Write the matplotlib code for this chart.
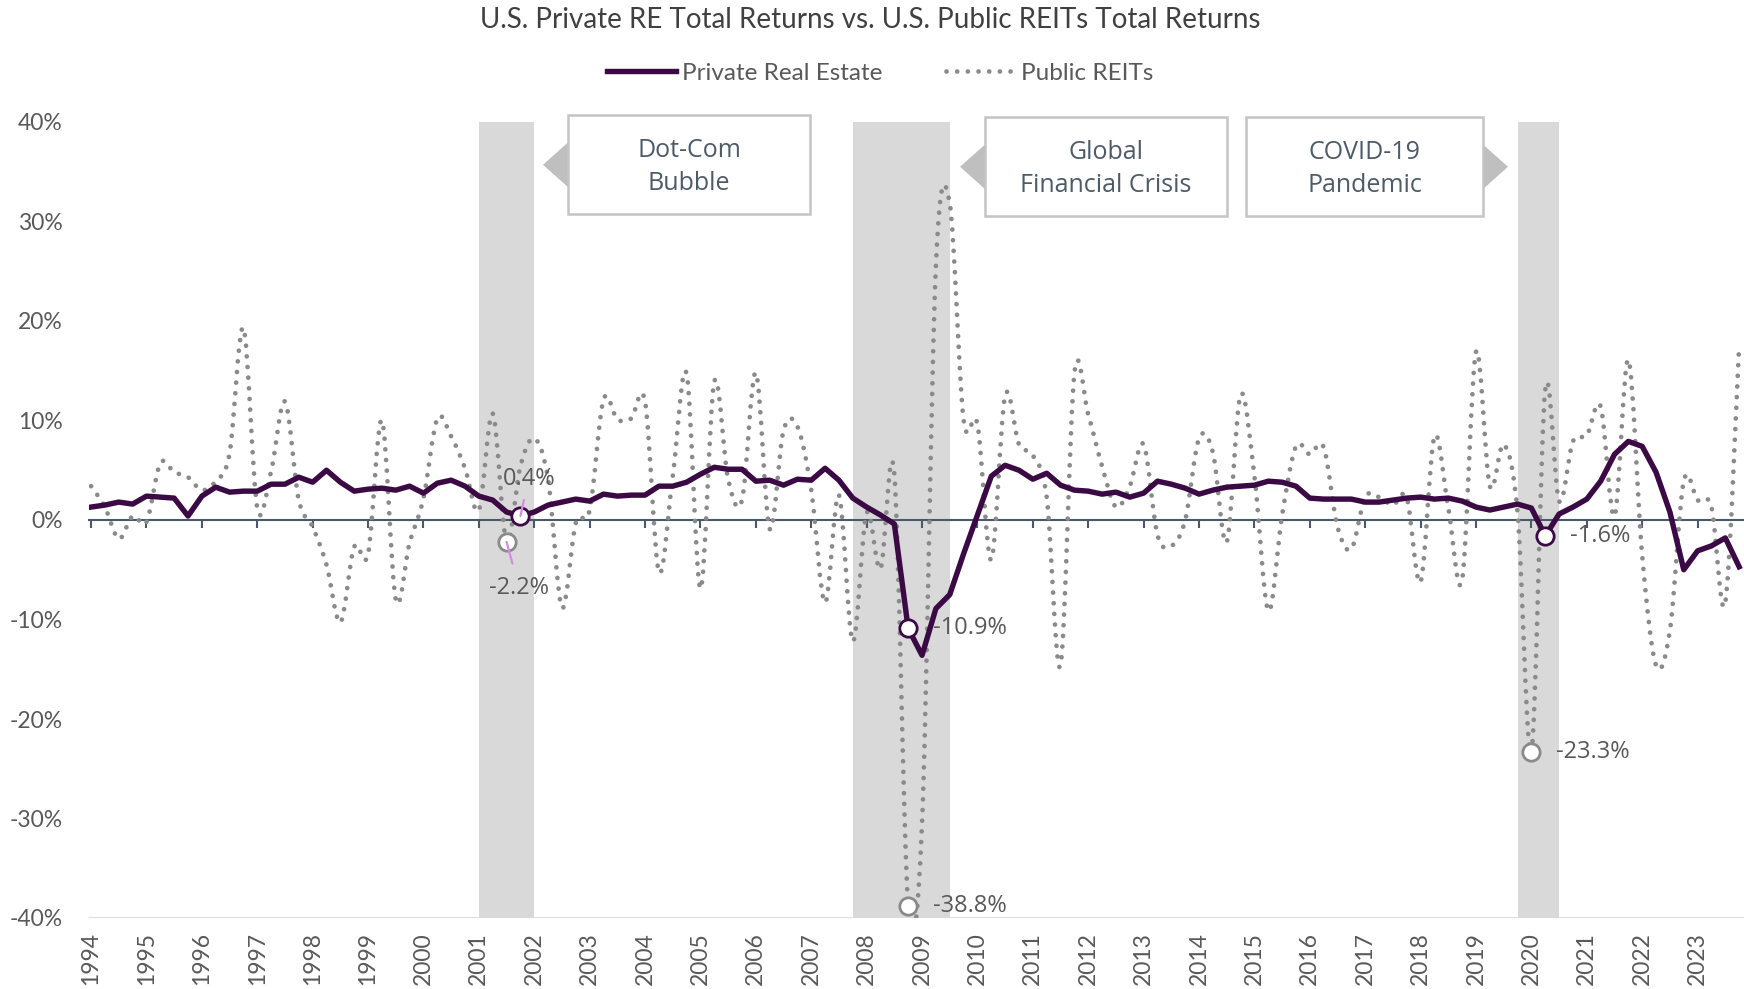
import numpy as np
import matplotlib.pyplot as plt
from matplotlib.path import Path
import matplotlib.patches as patches
from matplotlib.lines import Line2D

# quarterly total returns (%), 1994 Q1 .. 2023 Q4
years = list(range(1994, 2024))
private_re = [
    1.3, 1.5, 1.8, 1.6, 2.4, 2.3, 2.2, 0.4, 2.4, 3.3, 2.8, 2.9,
    2.9, 3.6, 3.6, 4.3, 3.8, 5.0, 3.8, 2.9, 3.1, 3.2, 3.0, 3.4,
    2.7, 3.7, 4.0, 3.4, 2.4, 2.0, 0.8, 0.4, 0.8, 1.5, 1.8, 2.1,
    1.9, 2.6, 2.4, 2.5, 2.5, 3.4, 3.4, 3.8, 4.6, 5.3, 5.1, 5.1,
    3.9, 4.0, 3.5, 4.1, 4.0, 5.2, 4.0, 2.2, 1.3, 0.5, -0.4, -10.9,
    -13.6, -8.9, -7.5, -3.4, 0.5, 4.4, 5.5, 5.0, 4.1, 4.7, 3.5, 3.0,
    2.9, 2.6, 2.8, 2.3, 2.7, 3.9, 3.6, 3.2, 2.6, 3.0, 3.3, 3.4,
    3.5, 3.9, 3.8, 3.4, 2.2, 2.1, 2.1, 2.1, 1.8, 1.8, 2.0, 2.2,
    2.3, 2.1, 2.2, 1.9, 1.3, 1.0, 1.3, 1.6, 1.2, -1.6, 0.6, 1.3,
    2.1, 3.9, 6.6, 7.9, 7.4, 4.8, 0.8, -5.0, -3.1, -2.6, -1.8, -4.7,
]
public_reits = [
    3.4, 1.3, -1.9, 0.4, -0.2, 5.7, 4.8, 4.3, 3.0, 3.9, 6.7, 19.3,
    1.2, 4.9, 11.9, 2.0, -0.7, -4.5, -10.3, -2.7, -3.4, 10.0, -8.0, -2.3,
    2.2, 10.2, 8.4, 5.2, 1.0, 10.7, -2.2, 5.4, 8.2, 4.1, -8.8, -0.3,
    1.0, 12.1, 10.1, 10.2, 11.9, -5.2, 4.4, 14.7, -6.9, 13.9, 4.1, 2.0,
    14.8, -0.9, 9.0, 9.4, 3.0, -8.3, 2.5, -12.2, 0.7, -4.9, 4.6, -38.8,
    -30.5, 25.5, 31.8, 10.1, 9.6, -4.0, 12.5, 7.6, 6.5, 2.3, -14.6, 14.7,
    10.6, 5.4, 1.3, 3.4, 7.6, -1.5, -2.6, 0.0, 8.2, 6.8, -2.2, 12.6,
    4.4, -9.1, 0.5, 7.4, 6.6, 7.3, -0.7, -2.9, 2.3, 2.3, 1.5, 2.2,
    -6.2, 8.4, 1.2, -6.0, 16.9, 3.4, 7.6, 0.7, -23.3, 13.1, 1.9, 7.9,
    8.5, 11.4, 0.4, 16.1, -3.6, -14.6, -11.1, 3.9, 2.0, 1.3, -8.3, 17.6,
]
# shaded periods, in quarters since 1994 Q1
crises = [(28, 32), (55, 62), (103, 106)]
crisis_names = ['Dot-Com\nBubble', 'Global\nFinancial Crisis', 'COVID-19\nPandemic']
private_marks = [31, 59, 105]
reit_marks = [30, 59, 104]

PURPLE = '#3b0a45'
GREY = '#8a8a8a'
SLATE = '#4a5968'
TXT = '#595959'
DOTS = (0, (0.01, 2.25))

fig = plt.figure(figsize=(17.44, 9.89), dpi=100)
ax = fig.add_axes([89 / 1744, 1 - 918 / 989, 1655 / 1744, 796 / 989])

q = np.arange(len(private_re))


def smooth_path(x, y):
  # excel style smoothed line: catmull-rom segments as cubic beziers
  pts = np.column_stack([x, y]).astype(float)
  ext = np.vstack([pts[0], pts, pts[-1]])
  verts = [pts[0]]
  codes = [Path.MOVETO]
  for i in range(len(pts) - 1):
    p0, p1, p2, p3 = ext[i], ext[i + 1], ext[i + 2], ext[i + 3]
    verts += [p1 + (p2 - p0) / 6, p2 - (p3 - p1) / 6, p2]
    codes += [Path.CURVE4] * 3
  return Path(verts, codes)


for a, b in crises:
  ax.axvspan(a, b, color='#d9d9d9', lw=0, zorder=1)
ax.axhline(-40, color='#d9d9d9', lw=2, zorder=0.5)

reit_patch = patches.PathPatch(smooth_path(q, public_reits), facecolor='none',
                               edgecolor=GREY, lw=3.4, linestyle=DOTS,
                               capstyle='round', zorder=3)
ax.add_patch(reit_patch)
ax.plot(q, private_re, color=PURPLE, lw=3.9, zorder=4)

pv = [private_re[i] for i in private_marks]
rv = [public_reits[i] for i in reit_marks]
ax.plot(private_marks, pv, 'o', ms=12.5, mfc='white', mec=PURPLE, mew=2, zorder=6)
ax.plot(reit_marks, rv, 'o', ms=12.5, mfc='white', mec=GREY, mew=2, zorder=6)

lab = dict(color=TXT, fontsize=17, family='Open Sans', textcoords='offset points', zorder=8)
leader = dict(arrowstyle='-', color='#d68be3', lw=1.6, shrinkB=0)
# dot-com labels with leader lines
ax.annotate('0.4%', (private_marks[0], pv[0]), xytext=(6, 27), ha='center', va='center',
            arrowprops=dict(leader, shrinkA=5), **lab)
ax.annotate('-2.2%', (reit_marks[0], rv[0]), xytext=(9, -33), ha='center', va='center',
            arrowprops=dict(leader, shrinkA=7), **lab)
for i, v in zip(private_marks[1:], pv[1:]):
  ax.annotate(f'{v:.1f}%', (i, v), xytext=(18, 0), ha='left', va='center', **lab)
for i, v in zip(reit_marks[1:], rv[1:]):
  ax.annotate(f'{v:.1f}%', (i, v), xytext=(18, 0), ha='left', va='center', **lab)

# callout boxes (axes fraction): box left, box right, top, arrow side
boxes = [(0.2894, 0.4356, 1.0085, 'left'), (0.5414, 0.6876, 1.006, 'left'),
         (0.6991, 0.8423, 1.006, 'right')]
for (x0, x1, y1, side), name in zip(boxes, crisis_names):
  y0 = y1 - 0.1245
  ym = (y0 + y1) / 2
  if side == 'left':
    tri = [(x0, ym + 0.028), (x0, ym - 0.028), (x0 - 0.0151, ym)]
  else:
    tri = [(x1, ym + 0.028), (x1, ym - 0.028), (x1 + 0.0151, ym)]
  ax.add_patch(patches.Polygon(tri, closed=True, transform=ax.transAxes, facecolor='#bfbfbf',
                               edgecolor='none', clip_on=False, zorder=9))
  ax.add_patch(patches.Rectangle((x0, y0), x1 - x0, y1 - y0, transform=ax.transAxes,
                                 facecolor='white', edgecolor='#c4c4c4', lw=1.8,
                                 clip_on=False, zorder=9))
  ax.text((x0 + x1) / 2, ym - 0.003, name, transform=ax.transAxes, ha='center', va='center',
          fontsize=18, family='Open Sans', color='#4d5b69', linespacing=1.45, zorder=10)

ax.set_xlim(-0.15, 119.35)
ax.set_ylim(-40, 40)
ax.set_yticks(range(-40, 41, 10))
ax.set_yticklabels([f'{v}%' for v in range(-40, 41, 10)])
ax.tick_params(axis='y', length=0, pad=19, labelsize=16.5, labelcolor=TXT)
for lbl in ax.get_yticklabels():
  lbl.set_family('Lato')

for s in ['top', 'right', 'left']:
  ax.spines[s].set_visible(False)
ax.spines['bottom'].set_position(('data', 0))
ax.spines['bottom'].set_color(SLATE)
ax.spines['bottom'].set_linewidth(1.5)
ax.spines['bottom'].set_zorder(2.5)
ax.set_xticks(range(0, 120, 4))
ax.tick_params(axis='x', direction='out', length=6, width=1.5, color=SLATE, labelbottom=False)

sec = ax.secondary_xaxis(0)
sec.set_xticks(range(0, 120, 4))
sec.set_xticklabels([str(y) for y in years])
sec.tick_params(length=0, pad=10, labelsize=16.5, labelcolor=TXT, labelrotation=90)
sec.spines['bottom'].set_visible(False)
for lbl in sec.get_xticklabels():
  lbl.set_family('Lato')

fig.text(0.4989, 1 - 20 / 989, 'U.S. Private RE Total Returns vs. U.S. Public REITs Total Returns',
         ha='center', va='center', fontsize=20, color='#404040', family='Lato')

handles = [Line2D([], [], color=PURPLE, lw=3.9),
           Line2D([], [], color=GREY, lw=3.4, linestyle=DOTS, dash_capstyle='round')]
fig.legend(handles, ['Private Real Estate', 'Public REITs'], loc='center',
           bbox_to_anchor=(0.5046, 1 - 73 / 989), ncol=2, frameon=False,
           prop={'family': 'Lato', 'size': 17.5}, labelcolor=TXT,
           handlelength=2.85, handletextpad=0.25, columnspacing=2.6)

fig.savefig('out.png', dpi=100)
